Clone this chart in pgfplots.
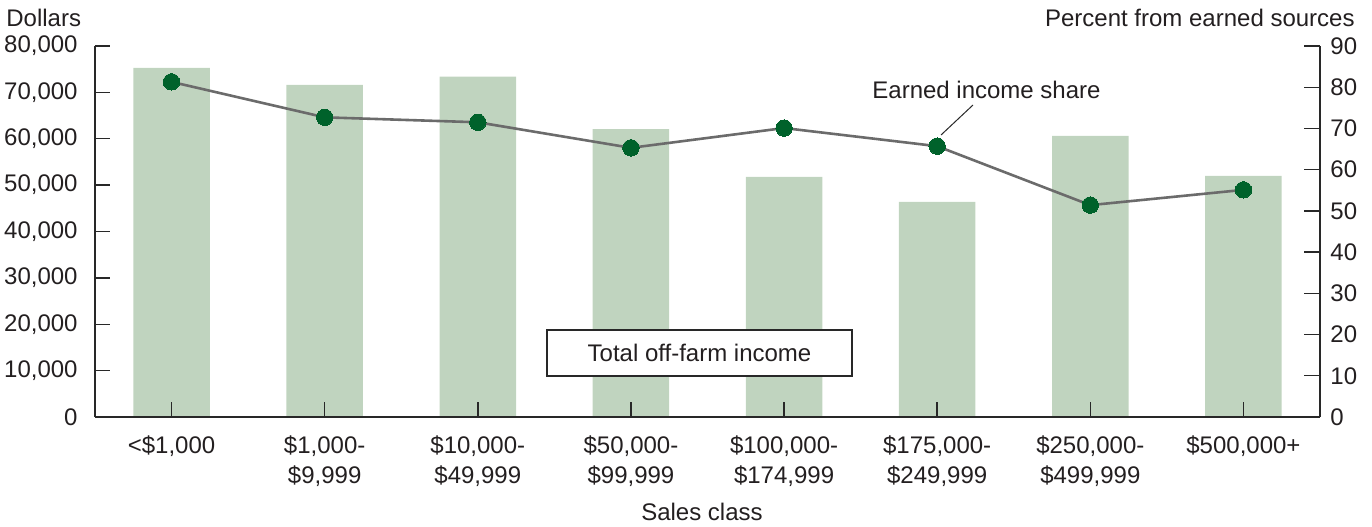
\documentclass[border=0pt]{standalone}
\usepackage{pgfplots}
\pgfplotsset{compat=1.18}
\usepackage{fontspec}
\setmainfont{Liberation Sans}
\definecolor{barc}{RGB}{192,212,191}
\definecolor{mk}{RGB}{0,98,43}
\definecolor{ln}{RGB}{107,107,107}
\definecolor{txt}{RGB}{35,31,32}
\definecolor{axc}{RGB}{40,40,40}
\begin{document}
\begin{tikzpicture}[font=\fontsize{12}{15}\selectfont, text=txt]
\begin{axis}[
  at={(0,0)}, anchor=south west,
  scale only axis, width=612.5pt, height=185.5pt,
  xmin=-0.5, xmax=7.5, ymin=0, ymax=80000,
  axis x line*=bottom, axis y line*=left,
  axis line style={axc, line width=0.7pt, -},
  tick style={axc, line width=0.7pt},
  tick align=inside,
  major tick length=7.5pt,
  xtick={0,...,7},
  xticklabels={{<\$1,000},{\$1,000-\\\$9,999},{\$10,000-\\\$49,999},{\$50,000-\\\$99,999},{\$100,000-\\\$174,999},{\$175,000-\\\$249,999},{\$250,000-\\\$499,999},{\$500,000+}},
  xticklabel style={align=center, anchor=north, inner sep=0pt, yshift=-9pt},
  ytick={0,10000,...,80000},
  scaled y ticks=false,
  yticklabel style={anchor=east, inner sep=0pt, xshift=-8.5pt},
  /pgf/number format/assume math mode=true,
  /pgf/number format/1000 sep={,},
  axis on top,
  clip=false,
]
\addplot[ybar, fill=barc, draw=none, bar width=0.5] coordinates {
  (0,75300) (1,71600) (2,73400) (3,62100) (4,51800) (5,46400) (6,60600) (7,52000)};
\end{axis}
\begin{axis}[
  at={(0,0)}, anchor=south west,
  scale only axis, width=612.5pt, height=185.5pt,
  xmin=-0.5, xmax=7.5, ymin=0, ymax=90,
  axis x line=none, axis y line*=right,
  axis line style={axc, line width=0.7pt, -},
  tick style={axc, line width=0.7pt},
  tick align=inside,
  major tick length=8pt,
  ytick={0,10,...,90},
  yticklabel style={anchor=west, inner sep=0pt, xshift=5pt},
  /pgf/number format/assume math mode=true,
  clip=false,
]
\addplot[ln, line width=1.3pt, mark=*, mark size=4.1pt, mark options={fill=mk, draw=mk, line width=0pt}] coordinates {
  (0,81.3) (1,72.7) (2,71.5) (3,65.3) (4,70.1) (5,65.7) (6,51.4) (7,55.1)};
\end{axis}
% annotations
\node[anchor=base west, inner sep=0pt] at (-44.5pt,195.5pt) {Dollars};
\node[anchor=base east, inner sep=0pt] at (630pt,195.5pt) {Percent from earned sources};
\node[anchor=base, inner sep=0pt] at (303.5pt,-51.5pt) {Sales class};
\node[anchor=base west, inner sep=0pt] at (388.5pt,159.5pt) {Earned income share};
\draw[axc, line width=0.5pt] (439pt,156pt) -- (423pt,141pt);
\draw[axc, line width=0.6pt, fill=white] (226pt,20.5pt) rectangle (378.5pt,43.5pt);
\node[anchor=center, inner sep=0pt] at (302.25pt,32pt) {Total off-farm income};
\pgfresetboundingbox
\path[use as bounding box] (-47.5pt,-54.5pt) rectangle (638.5pt,208.5pt);
\end{tikzpicture}
\end{document}
